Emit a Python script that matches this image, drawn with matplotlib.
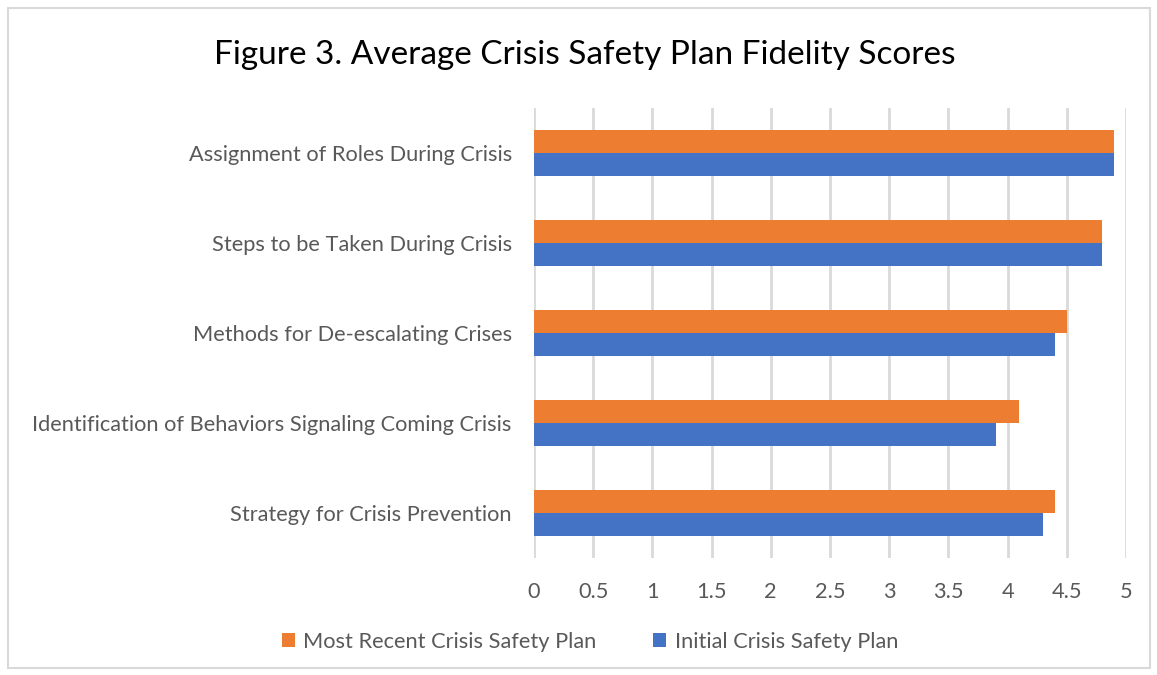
import matplotlib.pyplot as plt
import matplotlib.patches as mpatches
import numpy as np

categories = ["Assignment of Roles During Crisis", "Steps to be Taken During Crisis",
              "Methods for De-escalating Crises", "Identification of Behaviors Signaling Coming Crisis",
              "Strategy for Crisis Prevention"]
recent = [4.9, 4.8, 4.5, 4.1, 4.4]
initial = [4.9, 4.8, 4.4, 3.9, 4.3]
xticks = [0, 0.5, 1, 1.5, 2, 2.5, 3, 3.5, 4, 4.5, 5]

ORANGE = "#ED7D31"; BLUE = "#4472C4"; GRID = "#D9D9D9"; TXT = "#595959"
plt.rcParams["font.family"] = ["Lato", "DejaVu Sans"]

fig = plt.figure(figsize=(11.57, 6.75), dpi=100)
fig.patches.append(mpatches.Rectangle((8/1157, 1-668/675), 1142/1157, 660/675, transform=fig.transFigure,
                                      fill=False, edgecolor="#D9D9D9", lw=1.5))
ax = fig.add_axes([534/1157, 1-558/675, 592/1157, 450/675])

y = np.arange(len(categories))
h = 0.26
ax.barh(y - h/2, recent, height=h, color=ORANGE, label="Most Recent Crisis Safety Plan", zorder=3)
ax.barh(y + h/2, initial, height=h, color=BLUE, label="Initial Crisis Safety Plan", zorder=3)
ax.set_ylim(len(categories) - 0.5, -0.5)
ax.set_xlim(0, 5)
ax.set_yticks(y)
ax.set_yticklabels(categories, fontsize=15.7, color=TXT)
ax.set_xticks(xticks)
ax.set_xticklabels([f"{t:g}" for t in xticks], fontsize=15.7, color=TXT)
ax.tick_params(length=0, axis="both")
ax.tick_params(axis="x", pad=17)
ax.tick_params(axis="y", pad=16)
ax.xaxis.grid(True, color=GRID, lw=2, zorder=0)
for s in ax.spines.values():
    s.set_visible(False)

fig.text(585/1157, 1-55/675, "Figure 3. Average Crisis Safety Plan Fidelity Scores", fontsize=24,
         ha="center", va="center", color="black")
fig.legend(loc="center", bbox_to_anchor=(590/1157, 1-642/675), ncol=2, frameon=False, fontsize=15.7,
           handlelength=0.6, handleheight=0.6, columnspacing=2.6, handletextpad=0.4, labelcolor=TXT)
fig.savefig("out.png", dpi=100)
